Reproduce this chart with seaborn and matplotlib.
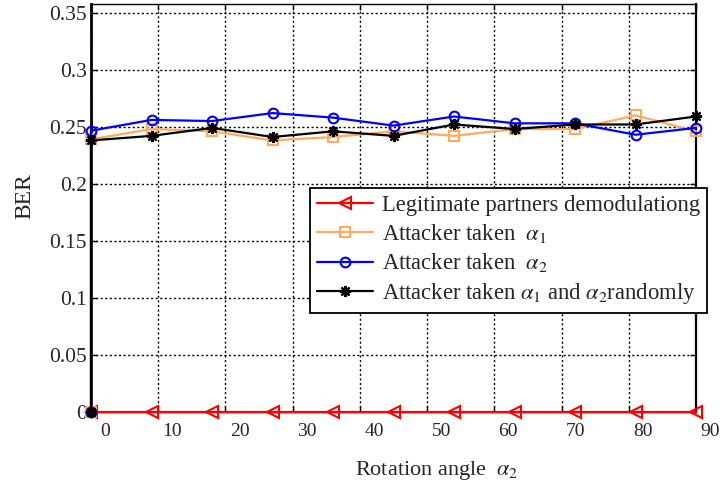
import matplotlib
matplotlib.use("Agg")
import matplotlib.pyplot as plt
from matplotlib.transforms import ScaledTranslation
import numpy as np
import pandas as pd
import seaborn as sns

# ---- data ----
angles = [0, 9, 18, 27, 36, 45, 54, 63, 72, 81, 90]
angles_att = [0, 0, 9, 18, 27, 36, 45, 54, 63, 72, 81, 90]
ber_legit = [0, 0, 0, 0, 0, 0, 0, 0, 0, 0, 0]
ber_alpha1 = [0.0, 0.239, 0.248, 0.246, 0.238, 0.241, 0.246, 0.242, 0.248, 0.248, 0.260, 0.246]
ber_alpha2 = [0.0, 0.2465, 0.256, 0.255, 0.262, 0.258, 0.251, 0.259, 0.253, 0.253, 0.243, 0.249]
ber_random = [0.0, 0.238, 0.242, 0.249, 0.241, 0.246, 0.242, 0.252, 0.248, 0.252, 0.252, 0.259]

series_labels = [
    "Legitimate partners demodulationg",
    r"Attacker taken  $\alpha_1$",
    r"Attacker taken  $\alpha_2$",
    r"Attacker taken $\alpha_1$ and $\alpha_2$randomly",
]
x_ticks = [0, 10, 20, 30, 40, 50, 60, 70, 80, 90]
x_tick_labels = ["0", "10", "20", "30", "40", "50", "60", "70", "80", "90"]
y_ticks = [0, 0.05, 0.1, 0.15, 0.2, 0.25, 0.3, 0.35]
y_tick_labels = ["0", "0.05", "0.1", "0.15", "0.2", "0.25", "0.3", "0.35"]
x_label = r"Rotation angle  $\alpha_2$"
y_label = "BER"

# ---- style ----
sns.set_theme(style="white")
plt.rcParams["font.family"] = ["Liberation Serif", "DejaVu Sans"]
plt.rcParams["mathtext.fontset"] = "stix"

fig = plt.figure(figsize=(7.24, 4.88), dpi=100)
L, R, T, B = 91 / 724, 696 / 724, 1 - 4 / 488, 1 - 411.7 / 488
ax = fig.add_axes([L, B, R - L, T - B])

lw = 1.6
common = dict(ax=ax, linewidth=lw, sort=False, estimator=None, clip_on=False)
sns.lineplot(x=angles, y=ber_legit, color="#ff0000", marker="<", markersize=8,
             markerfacecolor="none", markeredgecolor="#ff0000", markeredgewidth=1.5,
             label=series_labels[0], zorder=2.6, **common)
sns.lineplot(x=angles_att, y=ber_alpha1, color="#ffaa5e", marker="s", markersize=7,
             markerfacecolor="none", markeredgecolor="#ffaa5e", markeredgewidth=1.5,
             label=series_labels[1], zorder=3, **common)
sns.lineplot(x=angles_att, y=ber_alpha2, color="#0000ff", marker="o", markersize=7,
             markerfacecolor="none", markeredgecolor="#0000ff", markeredgewidth=1.5,
             label=series_labels[2], zorder=4, **common)
sns.lineplot(x=angles_att, y=ber_random, color="black", marker=(8, 2, 0), markersize=8,
             markeredgecolor="black", markeredgewidth=1.6,
             label=series_labels[3], zorder=4.5, **common)

ax.set_xlim(0, 90)
ax.set_ylim(0, 0.3577)
ax.set_xticks(x_ticks)
ax.set_xticklabels(x_tick_labels, fontsize=14)
ax.set_yticks(y_ticks)
ax.set_yticklabels(y_tick_labels, fontsize=15.5)
ax.tick_params(axis="both", direction="in", length=4, width=1, color="black",
               top=True, right=True, bottom=True, left=True)
ax.tick_params(axis="x", pad=8)
ax.tick_params(axis="y", pad=3)

off = ScaledTranslation(14 / 100, 0, fig.dpi_scale_trans)
for lbl in ax.get_xticklabels():
    lbl.set_transform(lbl.get_transform() + off)

ax.grid(True, color="black", linestyle=(0, (1.5, 1.8)), linewidth=1.0)
for side, w in [("left", 2.0), ("right", 1.6), ("top", 1.0), ("bottom", 1.0)]:
    ax.spines[side].set_visible(True)
    ax.spines[side].set_color("black")
    ax.spines[side].set_linewidth(w)

ax.set_xlabel(x_label, fontsize=16)
ax.xaxis.set_label_coords((437 - 91) / 605, -(470 - 411.7) / 407.7)
ax.xaxis.label.set_va("center")
ax.set_ylabel(y_label, fontsize=17)
ax.yaxis.set_label_coords((25 - 91) / 605, (411.7 - 196) / 407.7)
ax.yaxis.label.set_va("center")

leg = ax.legend(loc="upper left", bbox_to_anchor=(310 / 724, 1 - 188 / 488),
                bbox_transform=fig.transFigure, fontsize=16.3, frameon=True,
                fancybox=False, framealpha=1, edgecolor="black",
                handlelength=2.5, handletextpad=0.4, labelspacing=0.28,
                borderpad=0.3, borderaxespad=0)
leg.get_frame().set_linewidth(1.3)
leg.set_zorder(10)

fig.savefig("out.png", dpi=100)
